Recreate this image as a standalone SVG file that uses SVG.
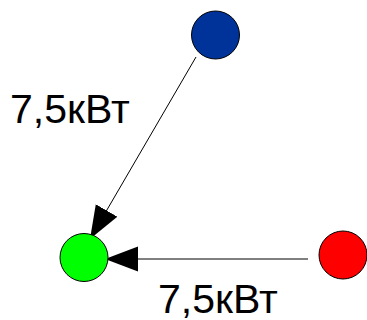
<svg xmlns="http://www.w3.org/2000/svg" width="367" height="320" viewBox="0 0 367 320">
<style>
.node{stroke:#000;stroke-width:1}
.edge{stroke:#000;stroke-width:1;fill:none;marker-end:url(#ah)}
.lbl{font-family:"Liberation Sans",Arial,sans-serif;font-size:41px;fill:#000}
</style>
<defs>
<marker id="ah" markerUnits="userSpaceOnUse" markerWidth="34" markerHeight="26" refX="33" refY="12.5" orient="auto" viewBox="0 0 34 26">
<path d="M0,0 L33,12.5 L0,25 z" fill="#000"/>
</marker>
</defs>
<g id="connectors">
<line class="edge" x1="196" y1="57" x2="90" y2="239"/>
<line class="edge" x1="308" y1="259" x2="105" y2="259"/>
</g>
<g id="node-blue"><circle class="node" cx="215.5" cy="35" r="24" fill="#003399"/></g>
<g id="node-green"><circle class="node" cx="84" cy="257.5" r="24" fill="#00ff00"/></g>
<g id="node-red"><circle class="node" cx="343" cy="255" r="24" fill="#ff0000"/></g>
<g id="label-1"><text class="lbl" x="10" y="123">7,5кВт</text></g>
<g id="label-2"><text class="lbl" x="158" y="313">7,5кВт</text></g>
</svg>
